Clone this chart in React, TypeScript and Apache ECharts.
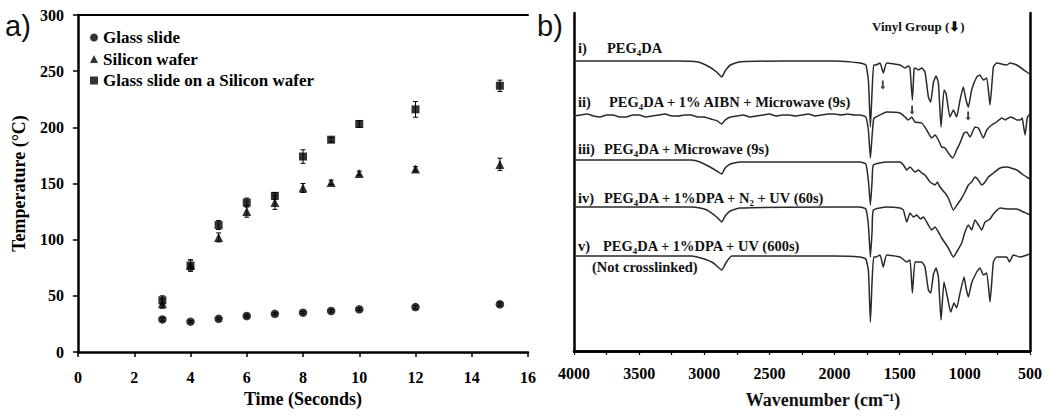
import React, { useEffect, useRef } from "react";
import * as echarts from "echarts";

// ---------- Panel a: temperature vs time ----------
const times = [3, 4, 5, 6, 7, 8, 9, 10, 12, 15];
const glassSlide = [29, 27, 29.5, 32, 34, 35, 36.5, 38, 40, 42.5];
const glassSlideErr = [1.5, 1, 1, 1, 1, 1, 1, 1, 1.5, 1.5];
const siliconWafer = [43, 77, 102, 125, 133, 146, 151, 159, 163, 167];
const siliconWaferErr = [4, 5, 4, 5, 6, 4, 2, 2, 2, 5.5];
const glassOnSilicon = [46, 77, 113, 133, 139, 174, 189, 203, 216, 237];
const glassOnSiliconErr = [4, 5, 4, 4, 3, 6, 2, 3, 7, 5];
const timeTicks = [0, 2, 4, 6, 8, 10, 12, 14, 16];
const tempTicks = [0, 50, 100, 150, 200, 250, 300];

// ---------- Panel b: FTIR spectra (wavenumber, offset transmittance a.u.) ----------
const specI: number[][] = [
  [4000, 290], [3500, 290], [3200, 290], [3050, 289], [2960, 284], [2905, 279], [2866, 274],
  [2840, 280], [2800, 286], [2730, 289], [2400, 290], [2000, 290], [1805, 288], [1760, 286],
  [1740, 270], [1725, 224], [1712, 260], [1700, 286], [1682, 286], [1651, 288], [1626, 278],
  [1600, 288], [1498, 286], [1459, 283], [1434, 285], [1421, 283], [1403, 251], [1390, 282],
  [1383, 283], [1357, 281], [1331, 283], [1306, 279], [1280, 254], [1262, 249], [1242, 268],
  [1221, 275], [1203, 268], [1183, 224], [1160, 261], [1145, 258], [1114, 234], [1088, 241],
  [1063, 234], [1037, 251], [1012, 264], [991, 251], [973, 244], [948, 261], [909, 274],
  [884, 276], [858, 271], [832, 273], [807, 246], [781, 284], [756, 288], [679, 286],
  [653, 288], [602, 286], [525, 279], [500, 277],
];
const specII: number[][] = [
  [4000, 235], [3950, 236], [3900, 237], [3850, 235], [3800, 234], [3750, 236], [3700, 236],
  [3650, 234], [3600, 234], [3550, 236], [3500, 236], [3450, 234], [3400, 235], [3350, 236],
  [3300, 237], [3250, 235], [3200, 235], [3150, 236], [3100, 236], [3050, 234], [3000, 234],
  [2950, 232], [2900, 230], [2866, 227], [2840, 231], [2800, 234], [2750, 235], [2700, 236],
  [2650, 234], [2600, 235], [2550, 236], [2500, 237], [2450, 235], [2400, 236], [2350, 236],
  [2300, 235], [2250, 236], [2200, 237], [2150, 235], [2100, 236], [2050, 237], [2000, 237],
  [1950, 236], [1900, 237], [1850, 236], [1805, 236], [1760, 234], [1740, 220], [1725, 193],
  [1712, 215], [1700, 232], [1682, 234], [1600, 239], [1498, 238], [1459, 234], [1434, 231],
  [1408, 234], [1383, 229], [1331, 228], [1293, 221], [1255, 213], [1229, 216], [1203, 211],
  [1178, 204], [1152, 203], [1127, 198], [1093, 193], [1063, 201], [1037, 208], [1006, 218],
  [986, 219], [960, 214], [922, 224], [896, 223], [858, 213], [832, 221], [794, 226],
  [756, 229], [717, 233], [690, 231], [679, 232], [650, 234], [628, 233], [600, 231],
  [577, 231], [560, 233], [551, 226], [538, 216], [520, 234], [505, 236], [500, 238],
];
const specIII: number[][] = [
  [4000, 191], [3100, 191], [3033, 189], [2956, 184], [2905, 180], [2866, 177], [2840, 183],
  [2800, 187], [2726, 189], [2000, 189], [1805, 189], [1760, 187], [1740, 170], [1725, 146],
  [1712, 170], [1702, 186], [1600, 189], [1498, 189], [1472, 186], [1446, 181], [1421, 184],
  [1383, 179], [1357, 181], [1331, 178], [1306, 176], [1267, 169], [1229, 166], [1211, 169],
  [1191, 164], [1152, 158], [1127, 153], [1088, 141], [1050, 148], [1024, 153], [999, 159],
  [973, 166], [948, 169], [922, 174], [896, 171], [871, 166], [845, 169], [820, 174],
  [781, 178], [730, 183], [679, 184], [602, 181], [551, 176], [513, 173], [500, 172],
];
const specIV: number[][] = [
  [4000, 144], [3100, 144], [3033, 143], [2980, 141], [2905, 134], [2866, 129], [2840, 135],
  [2800, 140], [2726, 143], [2000, 144], [1805, 144], [1760, 142], [1740, 125], [1725, 94],
  [1712, 120], [1702, 141], [1600, 144], [1498, 143], [1472, 141], [1446, 129], [1421, 138],
  [1395, 134], [1370, 136], [1340, 132], [1318, 134], [1293, 129], [1255, 121], [1229, 124],
  [1203, 119], [1178, 113], [1152, 108], [1127, 103], [1088, 94], [1063, 99], [1024, 108],
  [999, 119], [973, 126], [948, 121], [922, 131], [896, 126], [871, 121], [845, 129],
  [807, 132], [781, 137], [730, 143], [666, 142], [602, 142], [551, 139], [513, 137], [500, 136],
];
const specV: number[][] = [
  [4000, 95], [3100, 95], [3000, 92], [2930, 88], [2866, 81], [2835, 88], [2790, 95],
  [2000, 95], [1805, 94], [1760, 92], [1740, 80], [1725, 29], [1712, 70], [1700, 94],
  [1682, 94], [1651, 96], [1626, 84], [1600, 96], [1498, 94], [1446, 89], [1421, 91],
  [1403, 58], [1383, 89], [1357, 89], [1331, 89], [1306, 84], [1280, 61], [1262, 58],
  [1242, 76], [1221, 83], [1203, 74], [1183, 31], [1160, 69], [1134, 54], [1109, 39],
  [1083, 48], [1063, 43], [1037, 58], [1006, 74], [991, 63], [973, 54], [948, 68],
  [909, 79], [884, 83], [858, 76], [832, 78], [807, 49], [781, 89], [756, 94], [679, 94],
  [658, 89], [628, 96], [577, 94], [525, 96], [500, 97],
];
const vinylArrows: number[][] = [[1630, 266], [1405, 241], [975, 235]];
const wavenumberTicks = [4000, 3500, 3000, 2500, 2000, 1500, 1000, 500];

const SERIF = "Liberation Serif";
const bold16 = { fontFamily: SERIF, fontWeight: "bold" as const, fontSize: 16, color: "#000" };
const plain = (v: number) => String(v);

function errorBars(vals: number[], errs: number[]) {
  return times.map((t, i) => [t, vals[i] - errs[i], vals[i] + errs[i]]);
}

const renderErr = (params: any, api: any) => {
  const x = api.value(0);
  const top = api.coord([x, api.value(2)]);
  const bot = api.coord([x, api.value(1)]);
  const w = 2.5;
  const st = { stroke: "#000", lineWidth: 1 };
  return {
    type: "group",
    children: [
      { type: "line", shape: { x1: top[0], y1: top[1], x2: bot[0], y2: bot[1] }, style: st },
      { type: "line", shape: { x1: top[0] - w, y1: top[1], x2: top[0] + w, y2: top[1] }, style: st },
      { type: "line", shape: { x1: bot[0] - w, y1: bot[1], x2: bot[0] + w, y2: bot[1] }, style: st },
    ],
  };
};

const specLine = (data: number[][]) => ({
  type: "line",
  xAxisIndex: 2,
  yAxisIndex: 1,
  data,
  showSymbol: false,
  symbol: "none",
  smooth: 0.15,
  lineStyle: { color: "#2a2a2a", width: 1.5 },
  silent: true,
});

export default function App() {
  const ref = useRef<HTMLDivElement>(null);
  useEffect(() => {
    if (!ref.current) return;
    const chart = echarts.init(ref.current, null, { renderer: "svg" });
    const txt = (x: number, y: number, text: string, size = 14.5, extra: any = {}) => ({
      type: "text",
      x,
      y,
      silent: true,
      style: {
        text,
        fontFamily: SERIF,
        fontWeight: "bold",
        fontSize: size,
        fill: "#111",
        verticalAlign: "middle",
        align: "left",
        ...extra,
      },
    });
    const option: any = {
      animation: false,
      backgroundColor: "#fff",
      textStyle: { fontFamily: SERIF },
      grid: [
        { left: 78, top: 15, width: 450, height: 337 },
        { left: 574, top: 13, width: 456, height: 338 },
      ],
      legend: {
        data: ["Glass slide", "Silicon wafer", "Glass slide on a Silicon wafer"],
        orient: "vertical",
        left: 90,
        top: 29,
        padding: 0,
        itemGap: 4.5,
        itemWidth: 8,
        itemHeight: 8,
        textStyle: { ...bold16, fontSize: 17 },
      },
      xAxis: [
        {
          type: "value", gridIndex: 0, min: 0, max: 16, interval: 2,
          axisLine: { lineStyle: { color: "#000", width: 2.5 } },
          axisTick: { show: true, length: 5, lineStyle: { color: "#000", width: 1.5 } },
          axisLabel: { ...bold16, margin: 17, formatter: plain },
          splitLine: { show: false },
          name: "Time (Seconds)", nameLocation: "middle", nameGap: 36,
          nameTextStyle: { ...bold16, fontSize: 18 },
        },
        {
          type: "value", gridIndex: 0, min: 0, max: 16, position: "top",
          axisLine: { show: true, lineStyle: { color: "#000", width: 2 } },
          axisTick: { show: false }, axisLabel: { show: false }, splitLine: { show: false },
        },
        {
          type: "value", gridIndex: 1, min: 500, max: 4000, interval: 500, inverse: true,
          axisLine: { lineStyle: { color: "#000", width: 2.5 } },
          axisTick: { show: true, length: 4, lineStyle: { color: "#000", width: 1.2 } },
          minorTick: { show: true, splitNumber: 2, length: 4, lineStyle: { color: "#000", width: 1.2 } },
          axisLabel: { ...bold16, margin: 14, formatter: plain },
          splitLine: { show: false },
        },
        {
          type: "value", gridIndex: 1, min: 500, max: 4000, inverse: true, position: "top",
          axisLine: { show: true, lineStyle: { color: "#000", width: 2.5 } },
          axisTick: { show: false }, axisLabel: { show: false }, splitLine: { show: false },
        },
      ],
      yAxis: [
        {
          type: "value", gridIndex: 0, min: 0, max: 300, interval: 50,
          axisLine: { show: true, lineStyle: { color: "#000", width: 2.5 } },
          axisTick: { show: true, length: 5, lineStyle: { color: "#000", width: 1.5 } },
          axisLabel: { ...bold16, margin: 14, formatter: plain },
          splitLine: { show: false },
          name: "Temperature (°C)", nameLocation: "middle", nameGap: 50,
          nameTextStyle: { ...bold16, fontSize: 18 },
        },
        {
          type: "value", gridIndex: 1, min: 0, max: 338,
          axisLine: { show: true, lineStyle: { color: "#000", width: 2.5 } },
          axisTick: { show: false }, axisLabel: { show: false }, splitLine: { show: false },
        },
        {
          type: "value", gridIndex: 1, min: 0, max: 338, position: "right",
          axisLine: { show: true, lineStyle: { color: "#000", width: 2.5 } },
          axisTick: { show: false }, axisLabel: { show: false }, splitLine: { show: false },
        },
      ],
      series: [
        { type: "custom", name: "errG", xAxisIndex: 0, yAxisIndex: 0, renderItem: renderErr, data: errorBars(glassSlide, glassSlideErr), encode: { x: 0, y: [1, 2] }, silent: true, z: 1 },
        { type: "custom", name: "errS", xAxisIndex: 0, yAxisIndex: 0, renderItem: renderErr, data: errorBars(siliconWafer, siliconWaferErr), encode: { x: 0, y: [1, 2] }, silent: true, z: 1 },
        { type: "custom", name: "errGS", xAxisIndex: 0, yAxisIndex: 0, renderItem: renderErr, data: errorBars(glassOnSilicon, glassOnSiliconErr), encode: { x: 0, y: [1, 2] }, silent: true, z: 1 },
        {
          type: "scatter", name: "Glass slide", xAxisIndex: 0, yAxisIndex: 0, symbol: "circle", symbolSize: 8.5,
          itemStyle: { color: "#000" }, data: times.map((t, i) => [t, glassSlide[i]]), z: 3,
        },
        {
          type: "scatter", name: "Silicon wafer", xAxisIndex: 0, yAxisIndex: 0, symbol: "triangle", symbolSize: 9,
          itemStyle: { color: "#000" }, data: times.map((t, i) => [t, siliconWafer[i]]), z: 3,
        },
        {
          type: "scatter", name: "Glass slide on a Silicon wafer", xAxisIndex: 0, yAxisIndex: 0, symbol: "rect", symbolSize: 8,
          itemStyle: { color: "#000" }, data: times.map((t, i) => [t, glassOnSilicon[i]]), z: 3,
        },
        specLine(specI),
        specLine(specII),
        specLine(specIII),
        specLine(specIV),
        specLine(specV),
        {
          type: "scatter", xAxisIndex: 2, yAxisIndex: 1, data: vinylArrows,
          symbol: "path://M1,0 L2.2,0 L2.2,6 L3.2,6 L1.6,9 L0,6 L1,6 Z", symbolSize: [5, 9],
          itemStyle: { color: "#111" }, silent: true,
        },
      ],
      graphic: [
        { type: "text", x: 5, y: 26, silent: true, style: { text: "a)", fontFamily: "Liberation Sans", fontSize: 29, fill: "#111", verticalAlign: "middle" } },
        { type: "text", x: 537, y: 26, silent: true, style: { text: "b)", fontFamily: "Liberation Sans", fontSize: 29, fill: "#111", verticalAlign: "middle" } },
        txt(578, 48, "i)"),
        txt(607, 48, "PEG₄DA"),
        txt(578, 102, "ii)"),
        txt(609, 102, "PEG₄DA + 1% AIBN + Microwave (9s)"),
        txt(578, 149, "iii)"),
        txt(604, 149, "PEG₄DA + Microwave (9s)"),
        txt(578, 198, "iv)"),
        txt(604, 198, "PEG₄DA + 1%DPA + N₂ + UV (60s)"),
        txt(578, 246, "v)"),
        txt(603, 246, "PEG₄DA + 1%DPA + UV (600s)"),
        txt(592, 267, "(Not crosslinked)"),
        txt(872, 26, "Vinyl Group (⬇)", 13),
        txt(823, 400, "Wavenumber (cm⁻¹)", 18, { align: "center" }),
      ],
    };
    chart.setOption(option);
    return () => chart.dispose();
  }, []);
  return (
    <div
      ref={ref}
      style={{ position: "fixed", left: 0, top: 0, width: 1050, height: 419, background: "#fff" }}
    />
  );
}
